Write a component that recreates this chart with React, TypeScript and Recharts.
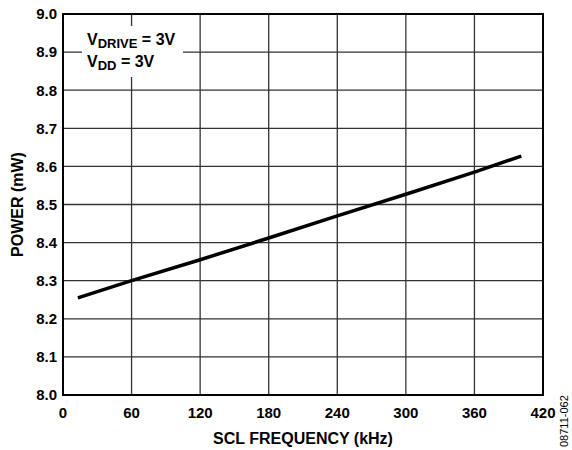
import React from 'react';
import { LineChart, Line, XAxis, YAxis, CartesianGrid, ReferenceArea } from 'recharts';

// SCL frequency (kHz) vs supply power (mW)
const frequency = [13, 60, 120, 180, 240, 300, 360, 401];
const power = [8.255, 8.3, 8.355, 8.412, 8.47, 8.527, 8.585, 8.627];

const xTicks = [0, 60, 120, 180, 240, 300, 360, 420];
const yTicks = [8.0, 8.1, 8.2, 8.3, 8.4, 8.5, 8.6, 8.7, 8.8, 8.9, 9.0];

const data = frequency.map((f, i) => ({ f, p: power[i] }));

const font = 'Arial, "Liberation Sans", Helvetica, sans-serif';

const YTitle = (props: any) => {
  const vb = props.viewBox || {};
  const cy = (vb.y || 0) + (vb.height || 0) / 2;
  return (
    <text
      x={17}
      y={cy}
      transform={`rotate(-90, 17, ${cy})`}
      textAnchor="middle"
      dominantBaseline="central"
      fill="#000"
      fontSize={16}
      fontWeight="bold"
      fontFamily={font}
    >
      POWER (mW)
    </text>
  );
};

export default function App() {
  return (
    <div style={{ position: 'absolute', left: 0, top: 0, width: 572, height: 450, background: '#fff', fontFamily: font }}>
      <LineChart width={572} height={450} data={data} margin={{ top: 14, right: 29, bottom: 0, left: 0 }}>
        <CartesianGrid stroke="#333" strokeWidth={1.3} horizontalValues={yTicks} verticalValues={xTicks} />
        <XAxis
          type="number"
          dataKey="f"
          domain={[0, 420]}
          ticks={xTicks}
          height={55}
          axisLine={false}
          tickLine={false}
          tickSize={0}
          tickMargin={12}
          tick={{ fill: '#000', fontSize: 15, fontWeight: 'bold', fontFamily: font }}
          label={{ value: 'SCL FREQUENCY (kHz)', position: 'insideBottom', offset: 6, fill: '#000', fontSize: 16, fontWeight: 'bold', fontFamily: font }}
        />
        <YAxis
          type="number"
          domain={[8.0, 9.0]}
          ticks={yTicks}
          width={63}
          axisLine={false}
          tickLine={false}
          tickSize={0}
          tickMargin={6}
          tickFormatter={(v: number) => v.toFixed(1)}
          tick={{ fill: '#000', fontSize: 15, fontWeight: 'bold', fontFamily: font }}
          label={{ content: YTitle }}
        />
        <ReferenceArea x1={0} x2={420} y1={8.0} y2={9.0} fill="none" stroke="#000" strokeWidth={2} />
        <Line type="linear" dataKey="p" stroke="#000" strokeWidth={3.5} dot={false} isAnimationActive={false} />
      </LineChart>
      <div
        style={{
          position: 'absolute', left: 82, top: 26, width: 101, height: 51, background: '#fff',
          fontSize: 16, fontWeight: 'bold', color: '#000', lineHeight: '21px', paddingLeft: 5, paddingTop: 3, boxSizing: 'border-box',
          whiteSpace: 'nowrap',
        }}
      >
        <div>V<span style={{ fontSize: 13, position: 'relative', top: 3 }}>DRIVE</span> = 3V</div>
        <div>V<span style={{ fontSize: 13, position: 'relative', top: 3 }}>DD</span> = 3V</div>
      </div>
      <div
        style={{
          position: 'absolute', left: 558, top: 447, transform: 'rotate(-90deg)', transformOrigin: 'left top',
          fontSize: 11, lineHeight: '13px', color: '#000', whiteSpace: 'nowrap',
        }}
      >
        08711-062
      </div>
    </div>
  );
}
